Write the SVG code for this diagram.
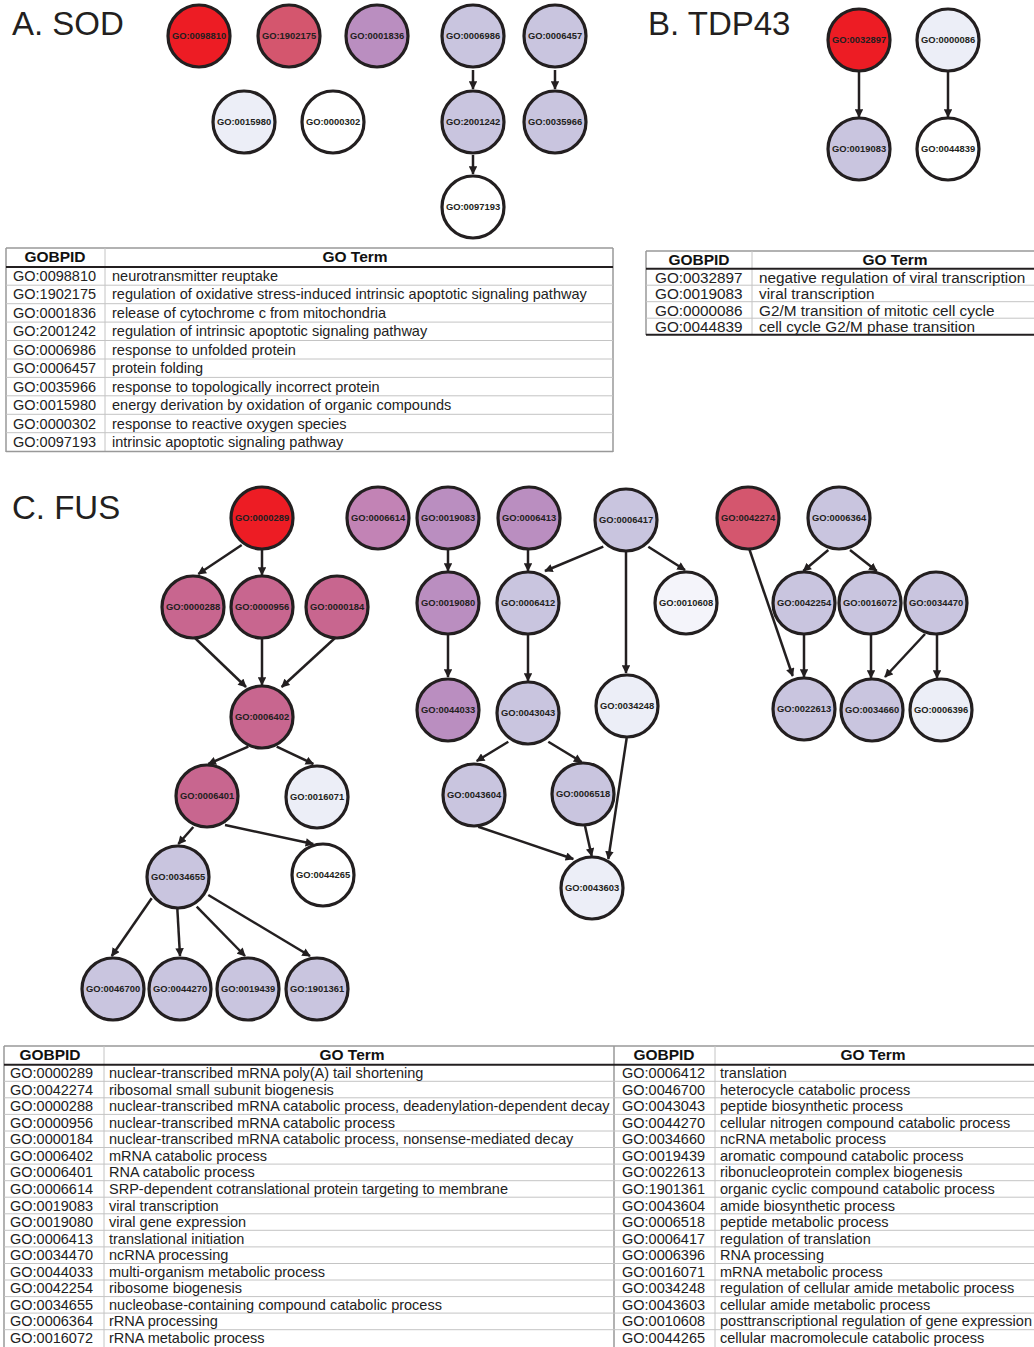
<svg xmlns="http://www.w3.org/2000/svg" width="1034" height="1347" viewBox="0 0 1034 1347">
<defs>
<marker id="arr" viewBox="0 0 10 10" refX="9" refY="5" markerWidth="3.6" markerHeight="3.4" orient="auto" markerUnits="strokeWidth">
<path d="M0,0 L10,5 L0,10 z" fill="#231F20"/>
</marker>
<style>
.title{font-family:"Liberation Sans",Arial,sans-serif;font-size:33px;fill:#231F20}
.n circle{stroke:#231F20;stroke-width:3.2}
.n text{font-family:"Liberation Sans",Arial,sans-serif;font-size:9.4px;font-weight:bold;fill:#231F20;text-anchor:middle}
.red{fill:#ED1C24}.rose{fill:#D4566E}.pink{fill:#C8668F}.mauve{fill:#BA8EC0}.mauve2{fill:#C283B5}
.lav{fill:#C9C5DF}.pale{fill:#ECEEF7}.pale2{fill:#F4F4FA}.wh{fill:#FFFFFF}
.e line{stroke:#231F20;stroke-width:2.5;marker-end:url(#arr)}
.th{font-family:"Liberation Sans",Arial,sans-serif;font-size:15.5px;font-weight:bold;fill:#111;text-anchor:middle}
.td{font-family:"Liberation Sans",Arial,sans-serif;font-size:14.5px;fill:#222}
.tdb{font-family:"Liberation Sans",Arial,sans-serif;font-size:15.3px;fill:#222}
.tdc{font-family:"Liberation Sans",Arial,sans-serif;font-size:14.5px;fill:#222}
.rl{stroke:#C4C4C4;stroke-width:1}
.gl{stroke:#999;stroke-width:1.5}
.hl{stroke:#231F20;stroke-width:2}
</style>
</defs>
<rect width="1034" height="1347" fill="#fff"/>

<text class="title" x="12" y="35">A. SOD</text>
<text class="title" x="648" y="35">B. TDP43</text>
<text class="title" x="12" y="519">C. FUS</text>

<!-- connectors -->
<g id="connectors" class="e">
<line x1="473" y1="70" x2="473" y2="89"/>
<line x1="473" y1="155" x2="473" y2="174"/>
<line x1="555" y1="70" x2="555" y2="89"/>
<line x1="859" y1="71" x2="859" y2="117"/>
<line x1="948" y1="71" x2="948" y2="117"/>
<line x1="241.7" y1="545" x2="198.3" y2="574"/>
<line x1="262" y1="549" x2="262" y2="575"/>
<line x1="195" y1="638" x2="246" y2="687"/>
<line x1="262" y1="638" x2="262" y2="685"/>
<line x1="335" y1="638" x2="281.7" y2="687"/>
<line x1="248.3" y1="746.7" x2="208.3" y2="764"/>
<line x1="276.7" y1="746.7" x2="313.3" y2="764"/>
<line x1="193.3" y1="827" x2="178.3" y2="844"/>
<line x1="225" y1="825" x2="313.3" y2="844"/>
<line x1="151.7" y1="898.3" x2="111.7" y2="956"/>
<line x1="177.3" y1="908" x2="180" y2="956"/>
<line x1="196.7" y1="906.7" x2="245" y2="956"/>
<line x1="208.3" y1="895" x2="310" y2="956"/>
<line x1="448" y1="549" x2="448" y2="571"/>
<line x1="448" y1="634" x2="448" y2="677"/>
<line x1="528" y1="549" x2="528" y2="571"/>
<line x1="603.3" y1="546.7" x2="545" y2="571"/>
<line x1="648.3" y1="546.7" x2="685" y2="570"/>
<line x1="626" y1="551" x2="626" y2="673"/>
<line x1="528" y1="634" x2="528" y2="681"/>
<line x1="508.3" y1="741.7" x2="476.7" y2="761"/>
<line x1="548.3" y1="741.7" x2="581.7" y2="762"/>
<line x1="478.3" y1="826.7" x2="573.3" y2="859"/>
<line x1="585" y1="826" x2="591.7" y2="856"/>
<line x1="626.7" y1="738" x2="608.3" y2="859"/>
<line x1="828.3" y1="550" x2="803.3" y2="571"/>
<line x1="850" y1="550" x2="876.7" y2="571"/>
<line x1="749.3" y1="549" x2="792.7" y2="676"/>
<line x1="804" y1="634" x2="804" y2="677"/>
<line x1="871" y1="634" x2="871" y2="678"/>
<line x1="925" y1="634" x2="885" y2="677"/>
<line x1="937" y1="634" x2="937" y2="678"/>
</g>

<!-- A nodes -->
<g id="A-GO0098810" class="n" transform="translate(199,36)"><circle class="red" r="31"/><text y="3.4">GO:0098810</text></g>
<g id="A-GO1902175" class="n" transform="translate(289,36)"><circle class="rose" r="31"/><text y="3.4">GO:1902175</text></g>
<g id="A-GO0001836" class="n" transform="translate(377,36)"><circle class="mauve" r="31"/><text y="3.4">GO:0001836</text></g>
<g id="A-GO0006986" class="n" transform="translate(473,36)"><circle class="lav" r="31"/><text y="3.4">GO:0006986</text></g>
<g id="A-GO0006457" class="n" transform="translate(555,36)"><circle class="lav" r="31"/><text y="3.4">GO:0006457</text></g>
<g id="A-GO0015980" class="n" transform="translate(244,122)"><circle class="pale" r="31"/><text y="3.4">GO:0015980</text></g>
<g id="A-GO0000302" class="n" transform="translate(333,122)"><circle class="wh" r="31"/><text y="3.4">GO:0000302</text></g>
<g id="A-GO2001242" class="n" transform="translate(473,122)"><circle class="lav" r="31"/><text y="3.4">GO:2001242</text></g>
<g id="A-GO0035966" class="n" transform="translate(555,122)"><circle class="lav" r="31"/><text y="3.4">GO:0035966</text></g>
<g id="A-GO0097193" class="n" transform="translate(473,207)"><circle class="wh" r="31"/><text y="3.4">GO:0097193</text></g>

<!-- B nodes -->
<g id="B-GO0032897" class="n" transform="translate(859,40)"><circle class="red" r="31"/><text y="3.4">GO:0032897</text></g>
<g id="B-GO0000086" class="n" transform="translate(948,40)"><circle class="pale" r="31"/><text y="3.4">GO:0000086</text></g>
<g id="B-GO0019083" class="n" transform="translate(859,149)"><circle class="lav" r="31"/><text y="3.4">GO:0019083</text></g>
<g id="B-GO0044839" class="n" transform="translate(948,149)"><circle class="wh" r="31"/><text y="3.4">GO:0044839</text></g>

<!-- C nodes -->
<g id="C-GO0000289" class="n" transform="translate(262,518)"><circle class="red" r="31"/><text y="3.4">GO:0000289</text></g>
<g id="C-GO0000288" class="n" transform="translate(193,607)"><circle class="pink" r="31"/><text y="3.4">GO:0000288</text></g>
<g id="C-GO0000956" class="n" transform="translate(262,607)"><circle class="pink" r="31"/><text y="3.4">GO:0000956</text></g>
<g id="C-GO0000184" class="n" transform="translate(337,607)"><circle class="pink" r="31"/><text y="3.4">GO:0000184</text></g>
<g id="C-GO0006402" class="n" transform="translate(262,717)"><circle class="pink" r="31"/><text y="3.4">GO:0006402</text></g>
<g id="C-GO0006401" class="n" transform="translate(207,796)"><circle class="pink" r="31"/><text y="3.4">GO:0006401</text></g>
<g id="C-GO0016071" class="n" transform="translate(317,797)"><circle class="pale" r="31"/><text y="3.4">GO:0016071</text></g>
<g id="C-GO0034655" class="n" transform="translate(178,877)"><circle class="lav" r="31"/><text y="3.4">GO:0034655</text></g>
<g id="C-GO0044265" class="n" transform="translate(323,875)"><circle class="wh" r="31"/><text y="3.4">GO:0044265</text></g>
<g id="C-GO0046700" class="n" transform="translate(113,989)"><circle class="lav" r="31"/><text y="3.4">GO:0046700</text></g>
<g id="C-GO0044270" class="n" transform="translate(180,989)"><circle class="lav" r="31"/><text y="3.4">GO:0044270</text></g>
<g id="C-GO0019439" class="n" transform="translate(248,989)"><circle class="lav" r="31"/><text y="3.4">GO:0019439</text></g>
<g id="C-GO1901361" class="n" transform="translate(317,989)"><circle class="lav" r="31"/><text y="3.4">GO:1901361</text></g>
<g id="C-GO0006614" class="n" transform="translate(378,518)"><circle class="mauve2" r="31"/><text y="3.4">GO:0006614</text></g>
<g id="C-GO0019083" class="n" transform="translate(448,518)"><circle class="mauve" r="31"/><text y="3.4">GO:0019083</text></g>
<g id="C-GO0006413" class="n" transform="translate(529,518)"><circle class="mauve" r="31"/><text y="3.4">GO:0006413</text></g>
<g id="C-GO0006417" class="n" transform="translate(626,520)"><circle class="lav" r="31"/><text y="3.4">GO:0006417</text></g>
<g id="C-GO0019080" class="n" transform="translate(448,603)"><circle class="mauve" r="31"/><text y="3.4">GO:0019080</text></g>
<g id="C-GO0006412" class="n" transform="translate(528,603)"><circle class="lav" r="31"/><text y="3.4">GO:0006412</text></g>
<g id="C-GO0010608" class="n" transform="translate(686,603)"><circle class="pale2" r="31"/><text y="3.4">GO:0010608</text></g>
<g id="C-GO0044033" class="n" transform="translate(448,710)"><circle class="mauve" r="31"/><text y="3.4">GO:0044033</text></g>
<g id="C-GO0043043" class="n" transform="translate(528,713)"><circle class="lav" r="31"/><text y="3.4">GO:0043043</text></g>
<g id="C-GO0034248" class="n" transform="translate(627,706)"><circle class="pale" r="31"/><text y="3.4">GO:0034248</text></g>
<g id="C-GO0043604" class="n" transform="translate(474,795)"><circle class="lav" r="31"/><text y="3.4">GO:0043604</text></g>
<g id="C-GO0006518" class="n" transform="translate(583,794)"><circle class="lav" r="31"/><text y="3.4">GO:0006518</text></g>
<g id="C-GO0043603" class="n" transform="translate(592,888)"><circle class="pale" r="31"/><text y="3.4">GO:0043603</text></g>
<g id="C-GO0042274" class="n" transform="translate(748,518)"><circle class="rose" r="31"/><text y="3.4">GO:0042274</text></g>
<g id="C-GO0006364" class="n" transform="translate(839,518)"><circle class="lav" r="31"/><text y="3.4">GO:0006364</text></g>
<g id="C-GO0042254" class="n" transform="translate(804,603)"><circle class="lav" r="31"/><text y="3.4">GO:0042254</text></g>
<g id="C-GO0016072" class="n" transform="translate(870,603)"><circle class="lav" r="31"/><text y="3.4">GO:0016072</text></g>
<g id="C-GO0034470" class="n" transform="translate(936,603)"><circle class="lav" r="31"/><text y="3.4">GO:0034470</text></g>
<g id="C-GO0022613" class="n" transform="translate(804,709)"><circle class="lav" r="31"/><text y="3.4">GO:0022613</text></g>
<g id="C-GO0034660" class="n" transform="translate(872,710)"><circle class="lav" r="31"/><text y="3.4">GO:0034660</text></g>
<g id="C-GO0006396" class="n" transform="translate(941,710)"><circle class="pale" r="31"/><text y="3.4">GO:0006396</text></g>

<!-- Table A -->
<g id="tableA">
<line class="gl" x1="6" y1="248" x2="613" y2="248"/>
<line class="gl" x1="6" y1="248" x2="6" y2="452"/>
<line class="gl" x1="613" y1="248" x2="613" y2="452"/>
<line class="rl" x1="105" y1="248" x2="105" y2="452"/>
<text class="th" x="55" y="262">GOBPID</text>
<text class="th" x="355" y="262">GO Term</text>
<line class="hl" x1="6" y1="267" x2="613" y2="267"/>
<g class="rl">
<line x1="6" y1="285.2" x2="613" y2="285.2"/><line x1="6" y1="303.7" x2="613" y2="303.7"/><line x1="6" y1="322.1" x2="613" y2="322.1"/>
<line x1="6" y1="340.5" x2="613" y2="340.5"/><line x1="6" y1="359" x2="613" y2="359"/><line x1="6" y1="377.4" x2="613" y2="377.4"/>
<line x1="6" y1="395.8" x2="613" y2="395.8"/><line x1="6" y1="414.3" x2="613" y2="414.3"/><line x1="6" y1="432.7" x2="613" y2="432.7"/>
</g>
<line class="gl" x1="6" y1="451.5" x2="613" y2="451.5"/>
<g class="td">
<text x="13" y="281">GO:0098810</text><text x="112" y="281">neurotransmitter reuptake</text>
<text x="13" y="299.4">GO:1902175</text><text x="112" y="299.4">regulation of oxidative stress-induced intrinsic apoptotic signaling pathway</text>
<text x="13" y="317.9">GO:0001836</text><text x="112" y="317.9">release of cytochrome c from mitochondria</text>
<text x="13" y="336.3">GO:2001242</text><text x="112" y="336.3">regulation of intrinsic apoptotic signaling pathway</text>
<text x="13" y="354.8">GO:0006986</text><text x="112" y="354.8">response to unfolded protein</text>
<text x="13" y="373.2">GO:0006457</text><text x="112" y="373.2">protein folding</text>
<text x="13" y="391.6">GO:0035966</text><text x="112" y="391.6">response to topologically incorrect protein</text>
<text x="13" y="410.1">GO:0015980</text><text x="112" y="410.1">energy derivation by oxidation of organic compounds</text>
<text x="13" y="428.5">GO:0000302</text><text x="112" y="428.5">response to reactive oxygen species</text>
<text x="13" y="447">GO:0097193</text><text x="112" y="447">intrinsic apoptotic signaling pathway</text>
</g>
</g>

<!-- Table B -->
<g id="tableB">
<line class="gl" x1="646" y1="251" x2="1034" y2="251"/>
<line class="gl" x1="646" y1="251" x2="646" y2="335"/>
<line class="rl" x1="752" y1="251" x2="752" y2="335"/>
<text class="th" x="699" y="265">GOBPID</text>
<text class="th" x="895" y="265">GO Term</text>
<line class="hl" x1="646" y1="268.7" x2="1034" y2="268.7"/>
<g class="rl">
<line x1="646" y1="285.2" x2="1034" y2="285.2"/><line x1="646" y1="301.7" x2="1034" y2="301.7"/><line x1="646" y1="318.2" x2="1034" y2="318.2"/>
</g>
<line class="hl" x1="646" y1="334.8" x2="1034" y2="334.8"/>
<g class="tdb">
<text x="655" y="282.5">GO:0032897</text><text x="759" y="282.5">negative regulation of viral transcription</text>
<text x="655" y="299">GO:0019083</text><text x="759" y="299">viral transcription</text>
<text x="655" y="315.5">GO:0000086</text><text x="759" y="315.5">G2/M transition of mitotic cell cycle</text>
<text x="655" y="332">GO:0044839</text><text x="759" y="332">cell cycle G2/M phase transition</text>
</g>
</g>

<!-- Table C -->
<g id="tableC">
<line class="gl" x1="4" y1="1046" x2="1034" y2="1046"/>
<line class="gl" x1="4" y1="1046" x2="4" y2="1347"/>
<line class="rl" x1="104" y1="1046" x2="104" y2="1347"/>
<line class="gl" x1="614" y1="1046" x2="614" y2="1347"/>
<line class="rl" x1="715" y1="1046" x2="715" y2="1347"/>
<text class="th" x="50" y="1060">GOBPID</text>
<text class="th" x="352" y="1060">GO Term</text>
<text class="th" x="664" y="1060">GOBPID</text>
<text class="th" x="873" y="1060">GO Term</text>
<line class="hl" x1="4" y1="1064.7" x2="1034" y2="1064.7"/>
<g class="rl">
<line x1="4" y1="1081.3" x2="1034" y2="1081.3"/><line x1="4" y1="1097.8" x2="1034" y2="1097.8"/><line x1="4" y1="1114.4" x2="1034" y2="1114.4"/>
<line x1="4" y1="1131" x2="1034" y2="1131"/><line x1="4" y1="1147.5" x2="1034" y2="1147.5"/><line x1="4" y1="1164.1" x2="1034" y2="1164.1"/>
<line x1="4" y1="1180.7" x2="1034" y2="1180.7"/><line x1="4" y1="1197.2" x2="1034" y2="1197.2"/><line x1="4" y1="1213.8" x2="1034" y2="1213.8"/>
<line x1="4" y1="1230.3" x2="1034" y2="1230.3"/><line x1="4" y1="1246.9" x2="1034" y2="1246.9"/><line x1="4" y1="1263.5" x2="1034" y2="1263.5"/>
<line x1="4" y1="1280" x2="1034" y2="1280"/><line x1="4" y1="1296.6" x2="1034" y2="1296.6"/><line x1="4" y1="1313.1" x2="1034" y2="1313.1"/>
<line x1="4" y1="1329.7" x2="1034" y2="1329.7"/>
</g>
<g class="tdc">
<text x="10" y="1078">GO:0000289</text><text x="109" y="1078">nuclear-transcribed mRNA poly(A) tail shortening</text>
<text x="10" y="1094.6">GO:0042274</text><text x="109" y="1094.6">ribosomal small subunit biogenesis</text>
<text x="10" y="1111.1">GO:0000288</text><text x="109" y="1111.1">nuclear-transcribed mRNA catabolic process, deadenylation-dependent decay</text>
<text x="10" y="1127.7">GO:0000956</text><text x="109" y="1127.7">nuclear-transcribed mRNA catabolic process</text>
<text x="10" y="1144.2">GO:0000184</text><text x="109" y="1144.2">nuclear-transcribed mRNA catabolic process, nonsense-mediated decay</text>
<text x="10" y="1160.8">GO:0006402</text><text x="109" y="1160.8">mRNA catabolic process</text>
<text x="10" y="1177.4">GO:0006401</text><text x="109" y="1177.4">RNA catabolic process</text>
<text x="10" y="1193.9">GO:0006614</text><text x="109" y="1193.9">SRP-dependent cotranslational protein targeting to membrane</text>
<text x="10" y="1210.5">GO:0019083</text><text x="109" y="1210.5">viral transcription</text>
<text x="10" y="1227">GO:0019080</text><text x="109" y="1227">viral gene expression</text>
<text x="10" y="1243.6">GO:0006413</text><text x="109" y="1243.6">translational initiation</text>
<text x="10" y="1260.2">GO:0034470</text><text x="109" y="1260.2">ncRNA processing</text>
<text x="10" y="1276.7">GO:0044033</text><text x="109" y="1276.7">multi-organism metabolic process</text>
<text x="10" y="1293.3">GO:0042254</text><text x="109" y="1293.3">ribosome biogenesis</text>
<text x="10" y="1309.8">GO:0034655</text><text x="109" y="1309.8">nucleobase-containing compound catabolic process</text>
<text x="10" y="1326.4">GO:0006364</text><text x="109" y="1326.4">rRNA processing</text>
<text x="10" y="1343">GO:0016072</text><text x="109" y="1343">rRNA metabolic process</text>
<text x="622" y="1078">GO:0006412</text><text x="720" y="1078">translation</text>
<text x="622" y="1094.6">GO:0046700</text><text x="720" y="1094.6">heterocycle catabolic process</text>
<text x="622" y="1111.1">GO:0043043</text><text x="720" y="1111.1">peptide biosynthetic process</text>
<text x="622" y="1127.7">GO:0044270</text><text x="720" y="1127.7">cellular nitrogen compound catabolic process</text>
<text x="622" y="1144.2">GO:0034660</text><text x="720" y="1144.2">ncRNA metabolic process</text>
<text x="622" y="1160.8">GO:0019439</text><text x="720" y="1160.8">aromatic compound catabolic process</text>
<text x="622" y="1177.4">GO:0022613</text><text x="720" y="1177.4">ribonucleoprotein complex biogenesis</text>
<text x="622" y="1193.9">GO:1901361</text><text x="720" y="1193.9">organic cyclic compound catabolic process</text>
<text x="622" y="1210.5">GO:0043604</text><text x="720" y="1210.5">amide biosynthetic process</text>
<text x="622" y="1227">GO:0006518</text><text x="720" y="1227">peptide metabolic process</text>
<text x="622" y="1243.6">GO:0006417</text><text x="720" y="1243.6">regulation of translation</text>
<text x="622" y="1260.2">GO:0006396</text><text x="720" y="1260.2">RNA processing</text>
<text x="622" y="1276.7">GO:0016071</text><text x="720" y="1276.7">mRNA metabolic process</text>
<text x="622" y="1293.3">GO:0034248</text><text x="720" y="1293.3">regulation of cellular amide metabolic process</text>
<text x="622" y="1309.8">GO:0043603</text><text x="720" y="1309.8">cellular amide metabolic process</text>
<text x="622" y="1326.4">GO:0010608</text><text x="720" y="1326.4">posttranscriptional regulation of gene expression</text>
<text x="622" y="1343">GO:0044265</text><text x="720" y="1343">cellular macromolecule catabolic process</text>
</g>
</g>
</svg>
